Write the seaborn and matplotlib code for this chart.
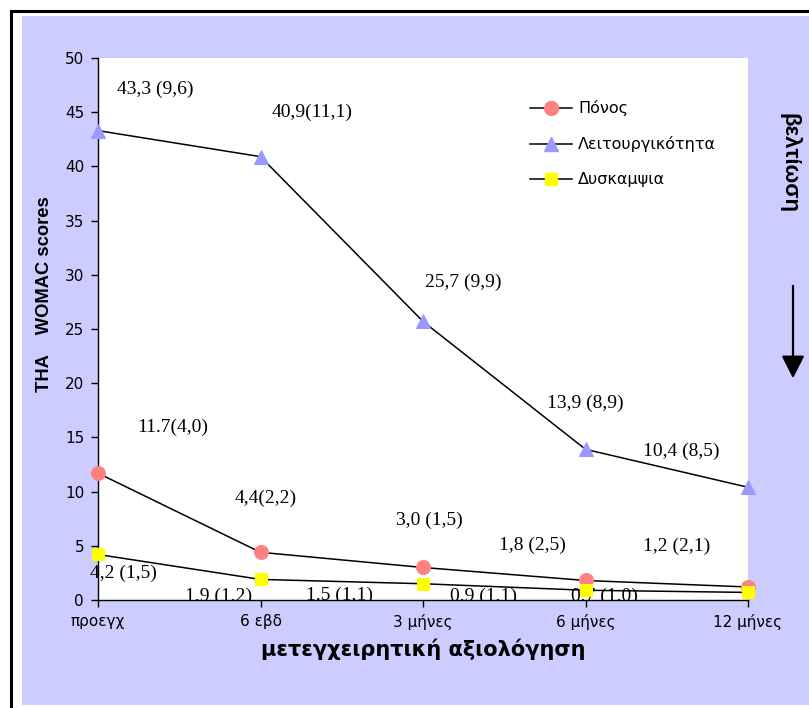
import matplotlib
matplotlib.use("Agg")
import matplotlib.pyplot as plt
import seaborn as sns
import pandas as pd
from matplotlib.patches import Rectangle, FancyArrowPatch
from matplotlib.lines import Line2D

# ---- data ----
categories = ["προεγχ", "6 εβδ", "3 μήνες", "6 μήνες", "12 μήνες"]
pain = [11.7, 4.4, 3.0, 1.8, 1.2]
function = [43.3, 40.9, 25.7, 13.9, 10.4]
stiffness = [4.2, 1.9, 1.5, 0.9, 0.7]
series_names = ["Πόνος", "Λειτουργικότητα", "Δυσκαμψια"]

pain_labels = ["11.7(4,0)", "4,4(2,2)", "3,0 (1,5)", "1,8 (2,5)", "1,2 (2,1)"]
function_labels = ["43,3 (9,6)", "40,9(11,1)", "25,7 (9,9)", "13,9 (8,9)", "10,4 (8,5)"]
stiffness_labels = ["4,2 (1,5)", "1,9 (1,2)", "1,5 (1,1)", "0,9 (1,1)", "0,7 (1,0)"]

# label offsets in pixels (dx, dy up)
pain_off = [(75, 46), (5, 54), (6, 47), (-53, 35), (-71, 41)]
function_off = [(57, 41), (52, 44), (40, 39), (0, 46), (-67, 36)]
stiff_off = [(25, -19), (-42, -17), (-83, -12), (-102, -6), (-144, -4)]

W, H = 809, 708
fig = plt.figure(figsize=(W / 100, H / 100), dpi=100)
fig.patch.set_facecolor("white")

# background lavender panel and outer border
bg = Rectangle((22 / W, 3 / H), 1, (H - 16 - 3) / H, transform=fig.transFigure,
               facecolor="#CCCCFF", edgecolor="none", zorder=-10)
fig.add_artist(bg)
fig.add_artist(Line2D([11 / W, 11 / W], [0, 1 - 11 / H], transform=fig.transFigure,
                      color="black", lw=2.2, zorder=-5))
fig.add_artist(Line2D([11 / W, 1], [1 - 11 / H, 1 - 11 / H], transform=fig.transFigure,
                      color="black", lw=2.2, zorder=-5))

left, right, top, bottom = 98, 748, 58, 600
ax = fig.add_axes([left / W, 1 - bottom / H, (right - left) / W, (bottom - top) / H])
ax.set_facecolor("white")

xs = list(range(len(categories)))
df = pd.DataFrame({"x": xs * 3,
                   "val": pain + function + stiffness,
                   "series": [series_names[0]] * 5 + [series_names[1]] * 5 + [series_names[2]] * 5})

styles = {
    series_names[0]: dict(marker="o", mfc="#FF8080", ms=10),
    series_names[1]: dict(marker="^", mfc="#9999FF", ms=10.5),
    series_names[2]: dict(marker="s", mfc="#FFFF00", ms=9),
}
handles = []
for name in series_names:
    sub = df[df["series"] == name]
    st = styles[name]
    sns.lineplot(data=sub, x="x", y="val", ax=ax, color="black", lw=1.1,
                 marker=st["marker"], markerfacecolor=st["mfc"], markeredgecolor=st["mfc"],
                 markersize=st["ms"], clip_on=False, zorder=3)
    handles.append(Line2D([], [], color="black", lw=1.1, marker=st["marker"],
                          markerfacecolor=st["mfc"], markeredgecolor=st["mfc"], markersize=st["ms"]))

ax.set_xlim(0, 4)
ax.set_ylim(0, 50)
ax.set_yticks(range(0, 51, 5))
ax.set_xticks(xs)
ax.set_xticklabels(categories)
for s in ["top", "right"]:
    ax.spines[s].set_visible(False)
for s in ["left", "bottom"]:
    ax.spines[s].set_linewidth(1.0)
    ax.spines[s].set_color("black")
    ax.spines[s].set_zorder(2.5)
ax.tick_params(axis="both", direction="out", length=5, width=1, color="black",
               labelsize=11, labelcolor="black")
ax.tick_params(axis="x", pad=5)
ax.tick_params(axis="y", pad=5)
for t in ax.get_xticklabels() + ax.get_yticklabels():
    t.set_fontfamily("DejaVu Sans")

ax.set_xlabel("μετεγχειρητική αξιολόγηση", fontsize=15, fontweight="bold",
              family="DejaVu Sans", labelpad=6)
ax.set_ylabel("")

fig.text(45 / W, 1 - 294 / H, "THA    WOMAC scores", rotation=90, ha="center", va="center",
         fontsize=13.2, fontweight="bold", family="Liberation Sans")

# labels: clipped only at the bottom (hidden below the x axis)
clip_rect = Rectangle((-0.2, 0), 1.4, 1.5, transform=ax.transAxes, visible=False)
for vals, labs, offs in [(function, function_labels, function_off),
                         (pain, pain_labels, pain_off),
                         (stiffness, stiffness_labels, stiff_off)]:
    for i, (v, lab, (dx, dy)) in enumerate(zip(vals, labs, offs)):
        t = ax.annotate(lab, xy=(i, v), xytext=(dx * 0.72, dy * 0.72), textcoords="offset points",
                        ha="center", va="center", fontsize=14, family="Liberation Serif",
                        annotation_clip=False, zorder=2)
        t.set_clip_path(clip_rect)
        t.set_clip_on(True)

leg = ax.legend(handles, series_names, loc="upper left",
                bbox_to_anchor=((524 - left) / (right - left), 1 - (94 - top) / (bottom - top)),
                frameon=False, prop={"family": "DejaVu Sans", "size": 11.5},
                handlelength=2.6, labelspacing=1.25, handletextpad=0.4, borderaxespad=0)

# right side note
fig.text(789 / W, 1 - 163 / H, "βελτίωση", rotation=-90, ha="center", va="center",
         fontsize=16, fontweight="bold", family="Liberation Sans")
fig.add_artist(FancyArrowPatch((793 / W, 1 - 283 / H), (793 / W, 1 - 381 / H),
                               transform=fig.transFigure, arrowstyle="-|>,head_length=5.5,head_width=2.8",
                               color="black", lw=1.6, mutation_scale=2.5))

fig.savefig("out.png", dpi=100)
